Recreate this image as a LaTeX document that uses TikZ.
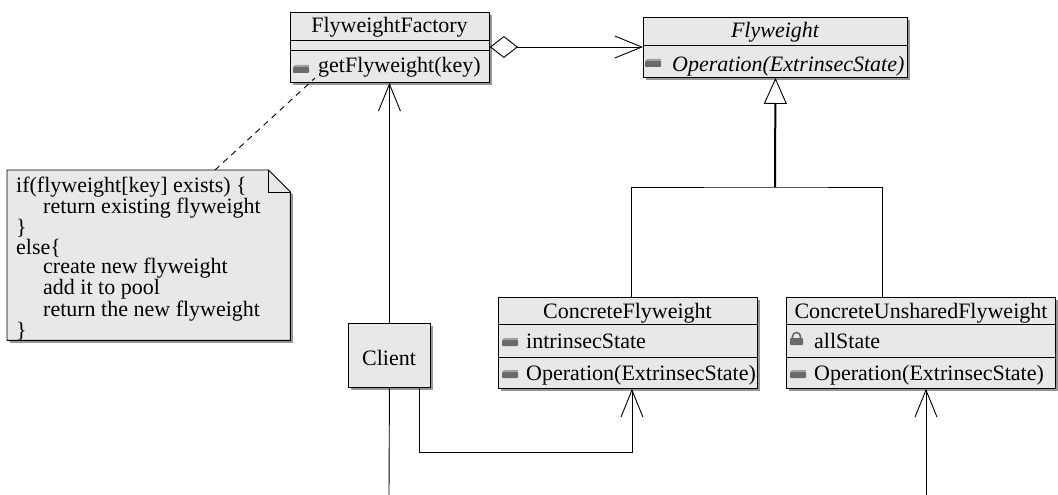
\documentclass[tikz,border=0pt]{standalone}
\usepackage{fontspec}
\setmainfont{Liberation Serif}
\usetikzlibrary{arrows.meta,calc,shadows}
\definecolor{boxfill}{RGB}{232,232,232}
\definecolor{iconbody}{RGB}{105,105,105}
\definecolor{icontop}{RGB}{160,160,160}
\definecolor{shade}{RGB}{150,150,150}
\begin{document}
\begin{tikzpicture}[x=1pt,y=-1pt,
  umlbox/.style={draw=black,fill=boxfill,line width=0.9pt,anchor=north west,inner sep=0pt,
    drop shadow={shadow xshift=2.5pt,shadow yshift=-2.5pt,opacity=1,fill=shade}},
  lbl/.style={inner sep=0pt,font=\fontsize{22}{24}\selectfont},
  divider/.style={line width=0.9pt},
  conn/.style={line width=0.9pt},
  barb/.style={conn,-{Straight Barb[length=27pt,width=22pt,line width=0.9pt]}},
  methodicon/.pic={
    \fill[iconbody,rounded corners=0.8pt] (0,2) rectangle (16,8);
    \fill[icontop] (2,0) -- (16,0) -- (16,2) -- (0,2) -- cycle;
  },
  lockicon/.pic={
    \draw[iconbody,line width=1.6pt] (2.5,7) -- (2.5,4.5) arc[start angle=180,end angle=360,radius=4] -- (10.5,7);
    \fill[iconbody,rounded corners=0.8pt] (0,6) rectangle (13,13);
  }
]
\useasboundingbox (0,0) rectangle (1058,495);

% ---------- FlyweightFactory ----------
\node[umlbox,minimum width=199pt,minimum height=70pt] (ff) at (290,12) {};
\draw[divider] ($(ff.north west)+(0,28)$) -- ($(ff.north east)+(0,28)$);
\draw[divider] ($(ff.north west)+(0,38)$) -- ($(ff.north east)+(0,38)$);
\node[lbl,anchor=base] (fftitle) at (389.5,33) {FlyweightFactory};
\pic at (293,65) {methodicon};
\node[lbl,anchor=base west] (ffop) at (318,73) {getFlyweight(key)};

% ---------- Flyweight (abstract) ----------
\node[umlbox,minimum width=264pt,minimum height=60pt] (fw) at (643,17) {};
\draw[divider] ($(fw.north west)+(0,28)$) -- ($(fw.north east)+(0,28)$);
\node[lbl,anchor=base,font=\fontsize{22}{24}\selectfont\itshape] (fwtitle) at (775,38) {Flyweight};
\pic at (645,59) {methodicon};
\node[lbl,anchor=base west,font=\fontsize{22}{24}\selectfont\itshape] (fwop) at (672,72) {Operation(ExtrinsecState)};

% ---------- ConcreteFlyweight ----------
\node[umlbox,minimum width=259pt,minimum height=91pt] (cf) at (498,297) {};
\draw[divider] ($(cf.north west)+(0,27)$) -- ($(cf.north east)+(0,27)$);
\draw[divider] ($(cf.north west)+(0,60)$) -- ($(cf.north east)+(0,60)$);
\node[lbl,anchor=base] (cftitle) at (627.5,318) {ConcreteFlyweight};
\pic at (502,338) {methodicon};
\node[lbl,anchor=base west] (cfattr) at (526,348) {intrinsecState};
\pic at (502,370) {methodicon};
\node[lbl,anchor=base west] (cfop) at (526,380) {Operation(ExtrinsecState)};

% ---------- ConcreteUnsharedFlyweight ----------
\node[umlbox,minimum width=269pt,minimum height=91pt] (cuf) at (786,297) {};
\draw[divider] ($(cuf.north west)+(0,27)$) -- ($(cuf.north east)+(0,27)$);
\draw[divider] ($(cuf.north west)+(0,60)$) -- ($(cuf.north east)+(0,60)$);
\node[lbl,anchor=base] (cuftitle) at (921,318) {ConcreteUnsharedFlyweight};
\pic at (790,332) {lockicon};
\node[lbl,anchor=base west] (cufattr) at (814,348) {allState};
\pic at (790,370) {methodicon};
\node[lbl,anchor=base west] (cufop) at (814,380) {Operation(ExtrinsecState)};

% ---------- Client ----------
\node[umlbox,minimum width=82pt,minimum height=64pt] (client) at (348,323) {};
\node[lbl,anchor=base] (clienttext) at (389,365) {Client};

% ---------- Note ----------
\node[anchor=north west,inner sep=0pt,minimum width=283pt,minimum height=170pt] (note) at (7,170) {};
\draw[line width=0.9pt,fill=boxfill,drop shadow={shadow xshift=2.5pt,shadow yshift=-2.5pt,opacity=1,fill=shade}]
  (note.north west) -- ($(note.north east)+(-22,0)$) -- ($(note.north east)+(0,22)$)
  -- (note.south east) -- (note.south west) -- cycle;
\draw[line width=0.9pt] ($(note.north east)+(-22,0)$) -- ($(note.north east)+(-22,22)$) -- ($(note.north east)+(0,22)$);
\node[lbl,anchor=north west,align=left,font=\fontsize{22}{19.5}\selectfont] (notetext) at (16,177) {%
if(flyweight[key] exists) \{\\
\hspace*{27pt}return existing flyweight\\
\}\\
else\{\\
\hspace*{27pt}create new flyweight\\
\hspace*{27pt}add it to pool\\
\hspace*{27pt}return the new flyweight\\
\}};

% ---------- Connectors ----------
% aggregation FlyweightFactory <>-> Flyweight
\draw[conn,{Diamond[open,length=28pt,width=22pt,line width=0.9pt]}-{Straight Barb[length=27pt,width=22pt,line width=0.9pt]}]
  ($(ff.north east)+(0,35)$) -- ($(fw.north west)+(0,30)$);

% generalization of the two concrete classes
\coordinate (join) at (775,187);
\draw[line width=2pt,-{Triangle[length=26pt,width=23pt,line width=0.9pt,fill=white]}] (join) -- (fw.south);
\draw[conn] ($(cf.north west)+(133,0)$) |- (join) -| ($(cuf.north west)+(96,0)$);

% client associations
\draw[barb] (client.north) -- (client.north |- ff.south);
\coordinate (clientend) at (389,495);
\draw[conn] (client.south) -- (clientend);
\coordinate (loop) at (419,452);
\draw[barb] (client.south -| loop) -- (loop) -| ($(cf.south)+(4,0)$);
\coordinate (cufend) at (926,495);
\draw[barb] (cufend) -- (cufend |- cuf.south);

% note attachment
\coordinate (noteanchor) at (315,78);
\draw[conn,dash pattern=on 6pt off 5pt] ($(note.north west)+(208,0)$) -- (noteanchor);
\end{tikzpicture}
\end{document}
